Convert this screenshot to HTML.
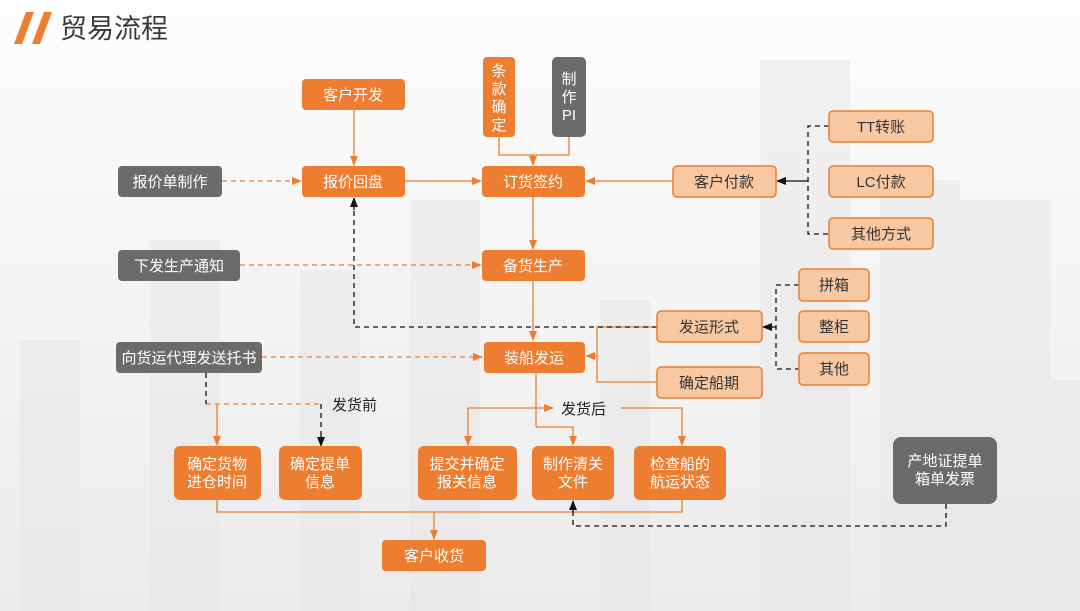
<!DOCTYPE html>
<html><head><meta charset="utf-8"><style>
html,body{margin:0;padding:0;width:1080px;height:611px;overflow:hidden;background:#f3f3f3}
svg{display:block}
text{font-family:"Liberation Sans","Noto Sans CJK SC",sans-serif}
</style></head><body>
<svg width="1080" height="611" viewBox="0 0 1080 611" xmlns="http://www.w3.org/2000/svg">
<defs>
<linearGradient id="bg" x1="0" y1="0" x2="0" y2="1">
<stop offset="0" stop-color="#fdfdfd"/><stop offset="0.5" stop-color="#f4f4f4"/><stop offset="1" stop-color="#ebebeb"/></linearGradient>
<marker id="ao" markerWidth="10" markerHeight="10" refX="9" refY="5" orient="auto" markerUnits="userSpaceOnUse"><path d="M0,1 L10,5 L0,9 z" fill="#ed7d31"/></marker>
<marker id="ab" markerWidth="10" markerHeight="10" refX="9" refY="5" orient="auto" markerUnits="userSpaceOnUse"><path d="M0,1 L10,5 L0,9 z" fill="#111"/></marker>
</defs>
<rect width="1080" height="611" fill="url(#bg)"/>
<g fill="#e6e6e6" opacity="0.5">
<rect x="150" y="240" width="70" height="371"/><rect x="300" y="270" width="60" height="341"/><rect x="410" y="200" width="70" height="411"/>
<rect x="600" y="300" width="50" height="311"/><rect x="760" y="60" width="90" height="551"/><rect x="880" y="180" width="80" height="431"/>
<rect x="960" y="200" width="90" height="411"/><rect x="20" y="340" width="60" height="271"/><rect x="1050" y="380" width="30" height="231"/>
</g>
<polygon points="14,44 26,12 34,12 22,44" fill="#ed7d31"/>
<polygon points="32,44 44,12 52,12 40,44" fill="#ed7d31"/>
<text x="60" y="38" font-size="27" fill="#3a3a3a">贸易流程</text>

<g fill="none" stroke-width="1.3">
<g stroke="#ed7d31">
<line x1="354" y1="110" x2="354" y2="165" marker-end="url(#ao)"/>
<line x1="405" y1="181" x2="481" y2="181" marker-end="url(#ao)"/>
<polyline points="499,137 499,155 569,155 569,137"/>
<line x1="533" y1="155" x2="533" y2="165" marker-end="url(#ao)"/>
<line x1="673" y1="181" x2="586" y2="181" marker-end="url(#ao)"/>
<line x1="533" y1="197" x2="533" y2="249" marker-end="url(#ao)"/>
<line x1="533" y1="281" x2="533" y2="340" marker-end="url(#ao)"/>
<polyline points="657,327 597,327 597,382 657,382"/>
<line x1="597" y1="356" x2="586" y2="356" marker-end="url(#ao)"/>
<line x1="536" y1="373" x2="536" y2="427"/>
<polyline points="536,408 468,408 468,445" marker-end="url(#ao)"/>
<line x1="536" y1="408" x2="553" y2="408" marker-end="url(#ao)"/>
<polyline points="536,427 573,427 573,445" marker-end="url(#ao)"/>
<polyline points="621,408 682,408 682,445" marker-end="url(#ao)"/>
<polyline points="217,404 217,445" marker-end="url(#ao)"/>
<polyline points="217,500 217,512 682,512 682,500"/>
<line x1="434" y1="512" x2="434" y2="539" marker-end="url(#ao)"/>
</g>
<g stroke="#ed7d31" stroke-dasharray="5,4">
<line x1="222" y1="181" x2="301" y2="181" marker-end="url(#ao)"/>
<line x1="240" y1="265" x2="481" y2="265" marker-end="url(#ao)"/>
<line x1="262" y1="357" x2="482" y2="357" marker-end="url(#ao)"/>
<line x1="206" y1="404" x2="321" y2="404"/>
</g>
<g stroke="#111" stroke-dasharray="5,4">
<polyline points="829,126 808,126 808,234 829,234"/>
<polyline points="657,327 354,327 354,199"/>
<polyline points="799,285 776,285 776,369 799,369"/>
<polyline points="206,373 206,404"/>
<line x1="321" y1="404" x2="321" y2="444"/>
<polyline points="946,504 946,526 573,526 573,503"/>
</g>
<g stroke="#111">
<line x1="808" y1="181" x2="777" y2="181" marker-end="url(#ab)"/>
<line x1="776" y1="327" x2="763" y2="327" marker-end="url(#ab)"/>
<line x1="321" y1="436" x2="321" y2="446" marker-end="url(#ab)"/>
<line x1="354" y1="210" x2="354" y2="198" marker-end="url(#ab)"/>
<line x1="573" y1="512" x2="573" y2="501" marker-end="url(#ab)"/>
</g>
</g>

<g fill="#ed7d31">
<rect x="302" y="79" width="103" height="31" rx="4"/>
<rect x="302" y="166" width="103" height="31" rx="4"/>
<rect x="482" y="166" width="103" height="31" rx="4"/>
<rect x="483" y="57" width="32" height="80" rx="4"/>
<rect x="482" y="250" width="103" height="31" rx="4"/>
<rect x="484" y="342" width="101" height="31" rx="4"/>
<rect x="174" y="446" width="87" height="54" rx="6"/>
<rect x="279" y="446" width="83" height="54" rx="6"/>
<rect x="418" y="446" width="99" height="54" rx="6"/>
<rect x="532" y="446" width="82" height="54" rx="6"/>
<rect x="634" y="446" width="92" height="54" rx="6"/>
<rect x="382" y="540" width="104" height="31" rx="4"/>
</g>
<g fill="#6b6b6b">
<rect x="118" y="166" width="104" height="31" rx="4"/>
<rect x="552" y="57" width="34" height="80" rx="5"/>
<rect x="118" y="250" width="122" height="31" rx="4"/>
<rect x="116" y="342" width="146" height="31" rx="4"/>
<rect x="893" y="437" width="104" height="67" rx="8"/>
</g>
<g fill="#f8c8a2" stroke="#ed7d31" stroke-width="1.5">
<rect x="673" y="166" width="103" height="31" rx="4"/>
<rect x="829" y="111" width="104" height="31" rx="4"/>
<rect x="829" y="166" width="104" height="31" rx="4"/>
<rect x="829" y="218" width="104" height="31" rx="4"/>
<rect x="799" y="269" width="70" height="32" rx="4"/>
<rect x="799" y="311" width="70" height="31" rx="4"/>
<rect x="799" y="353" width="70" height="32" rx="4"/>
<rect x="657" y="311" width="105" height="31" rx="4"/>
<rect x="657" y="367" width="105" height="31" rx="4"/>
</g>

<g font-size="15" fill="#fff" text-anchor="middle">
<text x="353" y="100">客户开发</text>
<text x="353" y="187">报价回盘</text>
<text x="533" y="187">订货签约</text>
<text x="499" y="76">条</text><text x="499" y="94">款</text><text x="499" y="112">确</text><text x="499" y="130">定</text>
<text x="569" y="84">制</text><text x="569" y="102">作</text><text x="569" y="120">PI</text>
<text x="533" y="271">备货生产</text>
<text x="534" y="363">装船发运</text>
<text x="217" y="469">确定货物</text><text x="217" y="487">进仓时间</text>
<text x="320" y="469">确定提单</text><text x="320" y="487">信息</text>
<text x="467" y="469">提交并确定</text><text x="467" y="487">报关信息</text>
<text x="573" y="469">制作清关</text><text x="573" y="487">文件</text>
<text x="680" y="469">检查船的</text><text x="680" y="487">航运状态</text>
<text x="434" y="561">客户收货</text>
<text x="170" y="187">报价单制作</text>
<text x="179" y="271">下发生产通知</text>
<text x="189" y="363">向货运代理发送托书</text>
<text x="945" y="466">产地证提单</text><text x="945" y="484">箱单发票</text>
</g>
<g font-size="15" fill="#333" text-anchor="middle">
<text x="724" y="187">客户付款</text>
<text x="881" y="132">TT转账</text>
<text x="881" y="187">LC付款</text>
<text x="881" y="239">其他方式</text>
<text x="834" y="290">拼箱</text>
<text x="834" y="332">整柜</text>
<text x="834" y="374">其他</text>
<text x="709" y="332">发运形式</text>
<text x="709" y="388">确定船期</text>
</g>
<g font-size="15" fill="#222">
<text x="332" y="410">发货前</text>
<text x="561" y="414">发货后</text>
</g>
</svg>
</body></html>
